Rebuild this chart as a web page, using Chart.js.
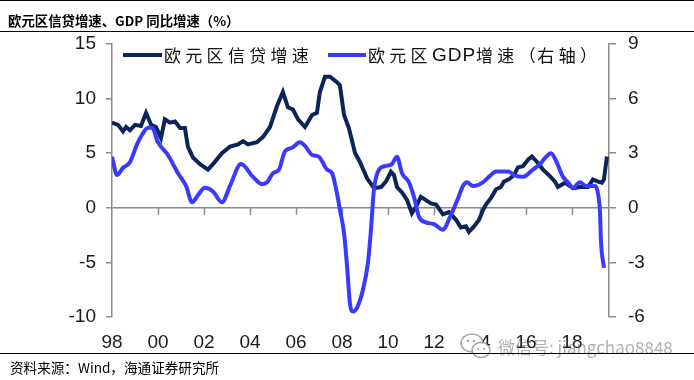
<!DOCTYPE html>
<html>
<head>
<meta charset="utf-8">
<script src="https://cdn.jsdelivr.net/npm/chart.js@4"></script>
<style>
  html, body { margin: 0; padding: 0; background: #fff; }
  #wrap { position: relative; width: 694px; height: 380px; overflow: hidden; }
  #chart { position: absolute; left: 0; top: 0; }
  .rule { position: absolute; left: 0; width: 694px; height: 0; border-top: 1.5px solid #000; }
  #title { position: absolute; left: 8px; top: 10px; font: bold 13.4px "Noto Sans CJK SC", sans-serif; color: #000; white-space: nowrap; }
  #source { position: absolute; left: 10px; top: 357px; font: 13.6px "Noto Sans CJK SC", sans-serif; color: #000; white-space: nowrap; }
  #mark { position: absolute; left: 498px; top: 334px; font: 17px "Noto Sans CJK SC", sans-serif; color: rgba(110,110,110,0.55); white-space: nowrap; }
  #icon { position: absolute; left: 460px; top: 332px; }
</style>
</head>
<body>
<div id="wrap">
  <canvas id="chart" width="694" height="380"></canvas>
  <div class="rule" style="top:0px"></div>
  <div id="title">欧元区信贷增速、GDP 同比增速（%）</div>
  <div class="rule" style="top:31px"></div>
  <svg id="icon" width="32" height="28" viewBox="0 0 32 28">
    <ellipse cx="12" cy="11" rx="11" ry="9" fill="#fff" stroke="rgba(110,110,110,0.6)" stroke-width="1.5"/>
    <ellipse cx="21" cy="18" rx="9" ry="7.5" fill="#fff" stroke="rgba(110,110,110,0.6)" stroke-width="1.5"/>
    <circle cx="8" cy="9" r="1.3" fill="rgba(110,110,110,0.6)"/>
    <circle cx="14" cy="9" r="1.3" fill="rgba(110,110,110,0.6)"/>
    <circle cx="18" cy="17" r="1.1" fill="rgba(110,110,110,0.6)"/>
    <circle cx="24" cy="17" r="1.1" fill="rgba(110,110,110,0.6)"/>
  </svg>
  <div id="mark">微信号: jiangchao8848</div>
  <div class="rule" style="top:353px"></div>
  <div id="source">资料来源：Wind，海通证券研究所</div>
</div>
<script>
// 欧元区信贷增速（左轴，%）
const creditYears = [1998.00, 1998.26, 1998.48, 1998.61, 1998.78, 1999.00, 1999.26, 1999.48, 1999.70, 1999.91,
  2000.13, 2000.30, 2000.52, 2000.74, 2000.96, 2001.17, 2001.30, 2001.52, 2001.83, 2002.17,
  2002.39, 2002.78, 2003.13, 2003.48, 2003.70, 2003.91, 2004.30, 2004.57, 2004.87, 2005.17,
  2005.43, 2005.65, 2005.87, 2006.09, 2006.39, 2006.70, 2006.91, 2007.04, 2007.26, 2007.48,
  2007.78, 2007.91, 2008.09, 2008.30, 2008.57, 2008.78, 2009.09, 2009.39, 2009.70, 2009.91,
  2010.13, 2010.26, 2010.39, 2010.61, 2010.83, 2011.04, 2011.22, 2011.43, 2011.65, 2011.87,
  2012.09, 2012.39, 2012.65, 2012.96, 2013.17, 2013.39, 2013.52, 2013.74, 2013.96, 2014.13,
  2014.26, 2014.48, 2014.70, 2014.91, 2015.04, 2015.26, 2015.48, 2015.65, 2015.87, 2016.09,
  2016.26, 2016.48, 2016.74, 2017.04, 2017.26, 2017.39, 2017.70, 2018.04, 2018.35, 2018.70,
  2018.91, 2019.13, 2019.30, 2019.39, 2019.52];
const creditValues = [7.8, 7.6, 7.0, 7.4, 7.1, 7.6, 7.5, 8.7, 7.6, 7.4,
  6.4, 8.1, 7.8, 7.9, 7.3, 7.3, 5.6, 4.6, 4.0, 3.5,
  4.0, 5.0, 5.6, 5.8, 6.1, 5.8, 6.0, 6.5, 7.4, 9.3,
  10.6, 9.2, 9.0, 8.1, 7.4, 8.5, 8.7, 10.6, 12.0, 12.0,
  11.5, 11.2, 8.5, 7.3, 5.0, 4.2, 2.7, 1.8, 1.9, 2.4,
  3.3, 3.0, 1.9, 1.4, 0.7, -0.5, 0.1, 1.0, 0.7, 0.4,
  0.3, -0.6, -0.4, -1.1, -1.8, -1.7, -2.2, -1.7, -1.1, -0.2,
  0.3, 0.9, 1.7, 1.9, 2.4, 2.6, 3.0, 3.7, 3.8, 4.4,
  4.7, 4.2, 3.5, 2.9, 2.4, 1.9, 2.3, 1.8, 1.9, 1.9,
  2.6, 2.4, 2.3, 2.6, 4.7];

// 欧元区GDP增速（右轴，%）
const gdpYears = [1998.00, 1998.22, 1998.48, 1998.78, 1999.09, 1999.30, 1999.57, 1999.74, 2000.00, 2000.43,
  2000.87, 2001.22, 2001.48, 2001.74, 2002.04, 2002.39, 2002.78, 2003.13, 2003.61, 2004.13,
  2004.52, 2004.74, 2005.00, 2005.26, 2005.52, 2005.83, 2006.17, 2006.39, 2006.70, 2007.00,
  2007.35, 2007.57, 2007.78, 2007.91, 2008.09, 2008.22, 2008.35, 2008.48, 2008.65, 2008.91,
  2009.13, 2009.26, 2009.39, 2009.61, 2009.91, 2010.17, 2010.39, 2010.61, 2010.91, 2011.13,
  2011.35, 2011.65, 2012.00, 2012.39, 2012.70, 2013.04, 2013.26, 2013.43, 2013.70, 2014.13,
  2014.39, 2014.70, 2015.22, 2015.48, 2015.87, 2016.30, 2016.61, 2016.87, 2017.09, 2017.30,
  2017.61, 2017.83, 2018.04, 2018.35, 2018.61, 2019.00, 2019.13, 2019.22, 2019.26, 2019.39];
const gdpValues = [2.8, 1.8, 2.2, 2.5, 3.5, 4.0, 4.4, 4.4, 3.6, 2.9,
  1.9, 1.2, 0.3, 0.7, 1.1, 0.9, 0.3, 1.2, 2.4, 1.7,
  1.3, 1.4, 1.9, 2.1, 3.1, 3.3, 3.6, 3.4, 2.9, 2.8,
  2.1, 1.9, 0.8, -0.1, -1.4, -3.2, -5.3, -5.7, -5.5, -4.5,
  -3.0, -1.2, 1.0, 2.1, 2.3, 2.4, 2.8, 1.9, 1.4, 0.6,
  -0.5, -0.8, -0.9, -1.2, -0.5, 0.5, 1.2, 1.4, 1.2, 1.4,
  1.7, 2.0, 2.0, 1.8, 1.7, 2.1, 2.4, 2.8, 3.0, 2.6,
  1.7, 1.4, 1.1, 1.4, 1.2, 1.2, 0.8, -0.3, -1.8, -3.3];

const xTickYears = [1998, 2000, 2002, 2004, 2006, 2008, 2010, 2012, 2014, 2016, 2018];
const xTickLabels = ['98', '00', '02', '04', '06', '08', '10', '12', '14', '16', '18'];
const leftTicks = [-10, -5, 0, 5, 10, 15];
const rightTicks = [-6, -3, 0, 3, 6, 9];

const NAVY = '#0b2459';
const BLUE = '#3a3aff';
const AXIS = '#8a8a8a';
const tickFont = { family: '"Liberation Sans", Arial, sans-serif', size: 19 };

// 零轴上的年份刻度
const zeroTicks = {
  id: 'zeroTicks',
  beforeDatasetsDraw(chart) {
    const { ctx, scales: { x, y } } = chart;
    const y0 = y.getPixelForValue(0);
    ctx.save();
    ctx.strokeStyle = AXIS;
    ctx.lineWidth = 1.5;
    xTickYears.slice(1).forEach(v => {
      const px = Math.round(x.getPixelForValue(v)) + 0.5;
      ctx.beginPath();
      ctx.moveTo(px, y0);
      ctx.lineTo(px, y0 + 7);
      ctx.stroke();
    });
    ctx.restore();
  }
};

// 图例（手动绘制，汉字等宽排开）
const legendItems = [
  { lineX: 123, lineW: 39, textX: 164 },
  { lineX: 328, lineW: 38, textX: 368 }
];
const manualLegend = {
  id: 'manualLegend',
  afterDraw(chart) {
    const ctx = chart.ctx;
    const cy = 55;
    ctx.save();
    chart.data.datasets.forEach((ds, i) => {
      const it = legendItems[i];
      ctx.strokeStyle = ds.borderColor;
      ctx.lineWidth = 4;
      ctx.beginPath();
      ctx.moveTo(it.lineX, cy);
      ctx.lineTo(it.lineX + it.lineW, cy);
      ctx.stroke();
      ctx.fillStyle = '#111';
      ctx.textBaseline = 'middle';
      let x = it.textX;
      for (const ch of ds.label) {
        if (/[A-Za-z]/.test(ch)) {
          ctx.font = '19px "Liberation Sans", Arial, sans-serif';
          ctx.fillText(ch, x, cy + 1);
          x += ctx.measureText(ch).width + 1;
        } else {
          ctx.font = '17px "Noto Sans CJK SC", sans-serif';
          ctx.fillText(ch, x, cy + 1);
          x += /[（）]/.test(ch) ? 18.7 : 21.3;
        }
      }
    });
    ctx.restore();
  }
};

new Chart(document.getElementById('chart'), {
  type: 'line',
  data: {
    datasets: [{
      label: '欧元区信贷增速',
      data: creditYears.map((x, i) => ({ x, y: creditValues[i] })),
      yAxisID: 'y',
      borderColor: NAVY,
      borderWidth: 4,
      pointRadius: 0,
      tension: 0,
      order: 1
    }, {
      label: '欧元区GDP增速（右轴）',
      data: gdpYears.map((x, i) => ({ x, y: gdpValues[i] })),
      yAxisID: 'y1',
      borderColor: BLUE,
      borderWidth: 4,
      pointRadius: 0,
      cubicInterpolationMode: 'monotone',
      order: 0
    }]
  },
  options: {
    responsive: false,
    animation: false,
    layout: { padding: { top: 44, left: 0, right: 0, bottom: 0 } },
    plugins: {
      legend: { display: false },
      tooltip: { enabled: false }
    },
    scales: {
      x: {
        type: 'linear',
        min: 1998,
        max: 2019.61,
        grid: { display: false, drawTicks: false },
        border: { display: false },
        afterBuildTicks: s => { s.ticks = xTickYears.map(v => ({ value: v })); },
        afterFit: s => { s.height = 63; },
        ticks: {
          autoSkip: false,
          maxRotation: 0,
          padding: 14,
          color: '#1a1a1a',
          font: tickFont,
          callback: v => xTickLabels[xTickYears.indexOf(v)]
        }
      },
      y: {
        position: 'left',
        min: -10,
        max: 15,
        afterBuildTicks: s => { s.ticks = leftTicks.map(v => ({ value: v })); },
        afterFit: s => { s.width = 112; },
        grid: {
          color: c => (c.tick && c.tick.value === 0 ? AXIS : 'rgba(0,0,0,0)'),
          tickColor: AXIS,
          tickLength: 6,
          lineWidth: 1.5
        },
        border: { color: AXIS, width: 1.5 },
        ticks: { padding: 10, color: '#1a1a1a', font: tickFont }
      },
      y1: {
        position: 'right',
        min: -6,
        max: 9,
        afterBuildTicks: s => { s.ticks = rightTicks.map(v => ({ value: v })); },
        afterFit: s => { s.width = 85; },
        grid: { drawOnChartArea: false, tickColor: AXIS, tickLength: 7, lineWidth: 1.5 },
        border: { color: AXIS, width: 1.5 },
        ticks: { padding: 12, color: '#1a1a1a', font: tickFont }
      }
    }
  },
  plugins: [zeroTicks, manualLegend]
});
</script>
</body>
</html>
